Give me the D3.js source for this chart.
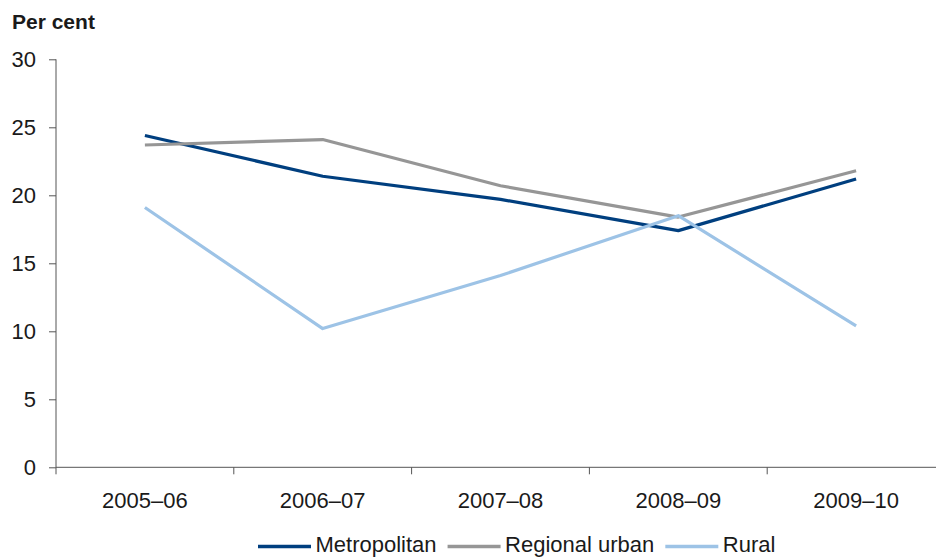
<!DOCTYPE html>
<html>
<head>
<meta charset="utf-8">
<script src="https://cdn.jsdelivr.net/npm/d3@7"></script>
<style>
  html, body { margin: 0; padding: 0; background: #fff; }
  svg { display: block; font-family: "Liberation Sans", Arial, sans-serif; }
</style>
</head>
<body>
<svg id="chart" width="936" height="557"></svg>
<script>
// Financial years on the category axis
const years = ["2005–06", "2006–07", "2007–08", "2008–09", "2009–10"];

// Per cent values for each area type
const metropolitan = [24.4, 21.4, 19.7, 17.4, 21.2];
const regionalUrban = [23.7, 24.1, 20.7, 18.4, 21.8];
const rural = [19.1, 10.2, 14.1, 18.5, 10.4];

const seriesNames = ["Metropolitan", "Regional urban", "Rural"];
const seriesColors = ["#003f7f", "#969696", "#9dc3e6"];
const yTicks = [0, 5, 10, 15, 20, 25, 30];

const series = [metropolitan, regionalUrban, rural].map((values, i) => ({
  name: seriesNames[i],
  color: seriesColors[i],
  values
}));

const svg = d3.select("#chart");
const plotLeft = 56, plotRight = 945, plotTop = 59.3, plotBottom = 467.3;
const fontSize = 22;

const x = d3.scaleBand().domain(years).range([plotLeft, plotRight]);
const y = d3.scaleLinear().domain([0, 30]).range([plotBottom, plotTop]);

// Axis title
svg.append("text")
  .attr("x", 12).attr("y", 29)
  .attr("font-size", 21).attr("font-weight", "bold").attr("fill", "#1a1a1a")
  .text("Per cent");

// Y axis
const yAxis = svg.append("g")
  .attr("transform", `translate(${plotLeft},0)`)
  .call(d3.axisLeft(y).tickValues(yTicks).tickSize(7).tickPadding(13).tickFormat(d3.format("d")));
yAxis.select(".domain").attr("stroke", "#555").attr("d", `M0,${plotTop}V${plotBottom}`);
yAxis.selectAll(".tick line").attr("stroke", "#555");
yAxis.selectAll(".tick text").attr("font-size", fontSize).attr("fill", "#1a1a1a")
  .attr("font-family", "Liberation Sans, Arial, sans-serif");

// X axis: ticks sit on the band boundaries
const boundaries = years.map(d => x(d)).concat([x(years[years.length - 1]) + x.bandwidth()]);
const xAxisG = svg.append("g");
xAxisG.append("line")
  .attr("x1", plotLeft).attr("x2", plotRight).attr("y1", plotBottom).attr("y2", plotBottom)
  .attr("stroke", "#555");
xAxisG.selectAll("line.tick").data(boundaries).join("line")
  .attr("class", "tick")
  .attr("x1", d => d).attr("x2", d => d)
  .attr("y1", plotBottom).attr("y2", plotBottom + 7)
  .attr("stroke", "#555");
xAxisG.selectAll("text").data(years).join("text")
  .attr("x", d => x(d) + x.bandwidth() / 2)
  .attr("y", 507.5)
  .attr("text-anchor", "middle")
  .attr("font-size", fontSize).attr("fill", "#1a1a1a")
  .text(d => d);

// Series lines
const line = d3.line()
  .x((d, i) => x(years[i]) + x.bandwidth() / 2)
  .y(d => y(d));

svg.append("g").selectAll("path").data(series).join("path")
  .attr("d", d => line(d.values))
  .attr("fill", "none")
  .attr("stroke", d => d.color)
  .attr("stroke-width", 3.2)
  .attr("stroke-linejoin", "round")
  .attr("stroke-linecap", "butt");

// Legend along the bottom edge
const legend = svg.append("g");
let lx = 258;
const ly = 546.5;
series.forEach(s => {
  legend.append("line")
    .attr("x1", lx).attr("x2", lx + 53)
    .attr("y1", ly).attr("y2", ly)
    .attr("stroke", s.color).attr("stroke-width", 3.5);
  const t = legend.append("text")
    .attr("x", lx + 57.5).attr("y", 551.5)
    .attr("font-size", fontSize).attr("fill", "#1a1a1a")
    .text(s.name);
  lx += 57.5 + t.node().getComputedTextLength() + 11;
});
</script>
</body>
</html>
